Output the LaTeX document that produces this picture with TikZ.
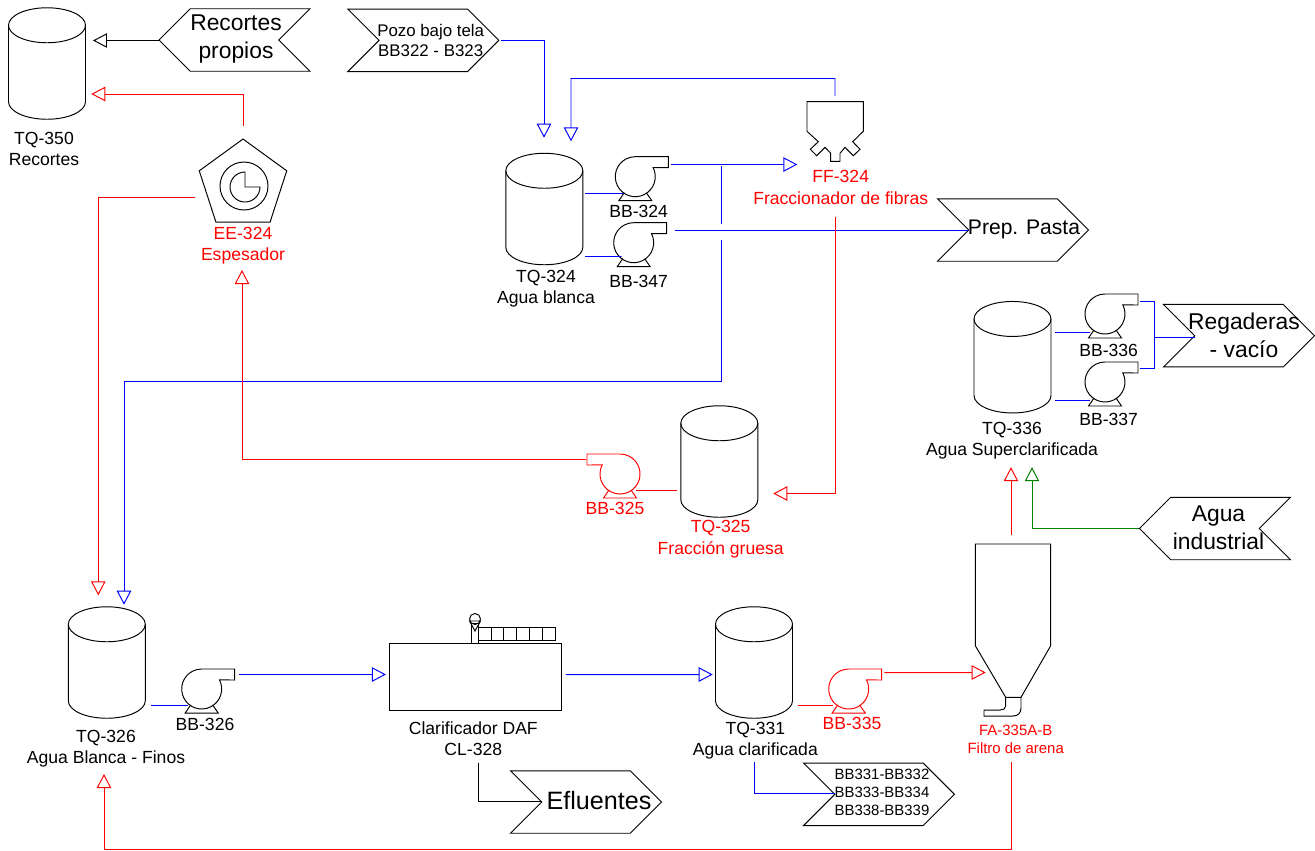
\documentclass[tikz,border=0pt]{standalone}
\usepackage{fontspec}
\setmainfont{Liberation Sans}
\usetikzlibrary{shapes.geometric, shapes.symbols, arrows.meta, calc}
\definecolor{pipegreen}{RGB}{0,128,0}
\tikzset{
  flagright/.style={signal, draw, signal to=east, signal from=west, inner sep=0pt, outer sep=0pt, minimum width=3.02cm, minimum height=1.25cm},
  flagleft/.style={signal, draw, signal to=west, signal from=east, inner sep=0pt, outer sep=0pt, minimum width=3.02cm, minimum height=1.25cm},
  lbl/.style={align=center, inner sep=0pt, font=\fontsize{10}{12.2}\selectfont},
  lblsmall/.style={align=center, inner sep=0pt, font=\fontsize{8.5}{10.5}\selectfont},
  flagtxt/.style={align=center, inner sep=0pt, font=\fontsize{13}{15.9}\selectfont},
  pipe/.style={-{Triangle[open,length=0.28cm,width=0.29cm]}},
  plain/.style={},
  tank/.pic={
    \node[rectangle, inner sep=0pt, outer sep=0pt, minimum width=1.54cm, minimum height=2.23cm] (-body) at (0,0) {};
    \draw (0,-38.25) ellipse (38.5 and 17.5);
    \draw (-38.5,-38.25) -- (-38.5,38.25) arc (180:0:38.5 and 17.5) -- (38.5,-38.25);
  },
  pump/.pic={
    \node[circle, inner sep=0pt, outer sep=0pt, minimum size=0.8cm] (-body) at (0,0) {};
    \draw (17.8,-9.1) arc (-27:270:20) -- (33,-20) -- (33,-9) -- cycle;
    \draw (-11,16) -- (-16.5,24) -- (16.5,24) -- (11,16);
  }
}
\begin{document}
\begin{tikzpicture}[x=0.02cm, y=-0.02cm, line width=0.55pt]
\useasboundingbox (0,0) rectangle (1315,850);

\pic (tq350) at (47,63.5) {tank};
\pic (tq324) at (544.3,209) {tank};
\pic (tq336) at (1012.5,357.2) {tank};
\pic (tq325) at (719.3,461.5) {tank};
\pic (tq326) at (106.8,662.5) {tank};
\pic (tq331) at (754,662.5) {tank};

\pic (bb324) at (635.3,176.7) {pump};
\pic (bb347) at (633.7,242.7) {pump};
\pic (bb336) at (1105,314) {pump};
\pic (bb337) at (1105,382) {pump};
\pic (bb326) at (201.7,689) {pump};
\pic[red] (bb335) at (848.7,689) {pump};
\pic[red, xscale=-1] (bb325) at (620,474) {pump};

\node[flagleft] (recortes) at (234.5,40) {};
\node[flagright] (pozo) at (423.3,40.3) {};
\node[flagright] (prep) at (1013,230) {};
\node[flagright] (regaderas) at (1239,335.7) {};
\node[flagleft] (agua) at (1215,528.5) {};
\node[flagright] (efluentes) at (586,802) {};
\node[flagright] (otras) at (879,794.3) {};

\node[regular polygon, regular polygon sides=5, draw, inner sep=0pt, outer sep=0pt, minimum size=1.84cm] (ee324) at (243,185) {};
\node[circle, draw, inner sep=0pt, minimum size=0.96cm] (ee324rotor) at (244,186) {};
\draw (245,187) -- +(15,0) arc (0:270:15) -- cycle;

\coordinate (ff324) at (835,131);
\draw (807,101.7) -- (863.3,101.7) -- (863.3,131.3) -- (852.7,141.7) -- (860,149.3) -- (853.3,155.7) -- (845,147.3) -- (840,153.3) -- (840,161.3) -- (830.7,161.3) -- (830.7,153.3) -- (825,147.3) -- (816.7,155.7) -- (810.3,149.3) -- (818.3,141.7) -- (807,131.3) -- cycle;

\node[rectangle, draw, inner sep=0pt, outer sep=0pt, minimum width=3.434cm, minimum height=1.334cm] (daf) at (475.15,676.65) {};
\draw (471.7,643.3) rectangle (478.3,623);
\draw (475,619) circle (5.5);
\draw (469.5,621) -- (480.5,621) -- (475,631) -- cycle;
\foreach \i in {0,...,5} {
  \draw (478.3+12.83*\i,627.7) rectangle +(12.83,13);
}

\coordinate (fa335) at (1013,620);
\draw (975.3,544) -- (1050.7,544) -- (1050.7,645.7) -- (1021,697.3) -- (1005.7,697.3) -- (975.3,645.7) -- cycle;
\draw (1005.7,697.3) -- (1005.7,706) .. controls (1005.7,709) and (1003,710) .. (1000,710) -- (984,710) -- (984,716) -- (1013,716) .. controls (1018,716) and (1021,713) .. (1021,708) -- (1021,697.3);

\node[flagtxt] (recortestxt) at (236,39) {Recortes\\propios};
\node[align=center, inner sep=0pt, font=\fontsize{9.6}{11}\selectfont] (pozotxt) at (430.7,40.5) {Pozo bajo tela\\BB322 - B323};
\node[inner sep=0pt, font=\fontsize{12}{14}\selectfont] (preptxt) at (1024,229.5) {Prep. Pasta};
\node[flagtxt] (regaderastxt) at (1244,335.5) {Regaderas\\- vacío};
\node[flagtxt] (aguatxt) at (1218.5,527.5) {Agua\\industrial};
\node[inner sep=0pt, font=\fontsize{14.3}{16}\selectfont] (efluentestxt) at (599,800.5) {Efluentes};
\node[align=center, inner sep=0pt, font=\fontsize{8.5}{10.3}\selectfont] (otrastxt) at (882,792.5) {BB331-BB332\\BB333-BB334\\BB338-BB339};

\node[lbl] (tq350lbl) at (44,149) {TQ-350\\Recortes};
\node[lbl, text=red] (ee324lbl) at (243,245.5) {EE-324\\Espesador};
\node[lbl] (tq324lbl) at (546,288.5) {TQ-324\\Agua blanca};
\node[lbl] (bb324lbl) at (638.7,211.5) {BB-324};
\node[lbl] (bb347lbl) at (638.7,281.5) {BB-347};
\node[lbl, text=red] (ff324lbl) at (840.7,187.6) {FF-324\\Fraccionador de fibras};
\node[lbl] (bb336lbl) at (1108.7,350.7) {BB-336};
\node[lbl] (bb337lbl) at (1108.7,419) {BB-337};
\node[lbl] (tq336lbl) at (1012,440.5) {TQ-336\\Agua Superclarificada};
\node[lbl, text=red] (bb325lbl) at (615,508.5) {BB-325};
\node[lbl, text=red] (tq325lbl) at (720.7,539) {TQ-325\\Fracción gruesa};
\node[lbl] (tq326lbl) at (106,748.5) {TQ-326\\Agua Blanca - Finos};
\node[lbl] (bb326lbl) at (205,724) {BB-326};
\node[lbl] (daflbl) at (473.3,738.5) {Clarificador DAF\\CL-328};
\node[lbl] (tq331lbl) at (755.3,740.5) {TQ-331\\Agua clarificada};
\node[lbl, text=red] (bb335lbl) at (852,723.5) {BB-335};
\node[lblsmall, text=red] (fa335lbl) at (1015.7,739.5) {FA-335A-B\\Filtro de arena};

\coordinate (topbend) at (571,78.5);
\coordinate (teetop) at (721,166);
\coordinate (teegapa) at (721,224);
\coordinate (teegapb) at (721,240);
\coordinate (teebend) at (721,381);
\coordinate (regtee) at (1154,337.5);
\coordinate (returnbend) at (104,849);

\draw[pipe] ($(recortes.center)+(-75.5,0.5)$) -- ($(tq350-body.center)+(46,-23)$);
\draw[pipe, red] ($(ee324.center)+(0,-59)$) |- ($(tq350-body.center)+(44.3,30.5)$);
\draw[pipe, red] ($(ee324.center)+(-48,12)$) -| ($(tq326-body.center)+(-8.5,-67.2)$);
\draw[pipe, blue] ($(pozo.east)+(2,0.2)$) -| ($(tq324-body.center)+(-0.3,-71.3)$);
\draw[pipe, blue] ($(ff324)+(0,-35)$) |- (topbend) -- ($(tq324-body.center)+(26.7,-67.7)$);
\draw[plain, blue] ($(tq324-body.center)+(40.7,-15.5)$) -- ($(bb324-body.center)+(-12.3,16.8)$);
\draw[plain, blue] ($(tq324-body.center)+(40.7,47.5)$) -- ($(bb347-body.center)+(-12,13.8)$);
\draw[pipe, blue] ($(bb324-body.center)+(35.7,-12.2)$) -- ($(ff324)+(-37.7,33.5)$);
\draw[plain, blue] ($(bb347-body.center)+(41.3,-12.2)$) -- ($(prep.center)+(-44,0.5)$);
\draw[plain, blue] (teetop) -- (teegapa);
\draw[pipe, blue] (teegapb) -- (teebend) -| ($(tq326-body.center)+(17.2,-57.8)$);
\draw[pipe, red] ($(ff324)+(0,86)$) |- ($(tq325-body.center)+(54,32)$);
\draw[plain, red] ($(tq325-body.center)+(-42,29)$) -- ($(bb325-body.center)+(15.7,16.5)$);
\draw[pipe, red] ($(bb325-body.center)+(-34.3,-14.5)$) -| ($(ee324.center)+(-1,85)$);
\draw[plain, blue] ($(tq336-body.center)+(42.5,-24.7)$) -- ($(bb336-body.center)+(-15,18.5)$);
\draw[plain, blue] ($(tq336-body.center)+(42.5,43.3)$) -- ($(bb337-body.center)+(-15,18.5)$);
\draw[plain, blue] ($(bb336-body.center)+(35,-13)$) -| (regtee) |- ($(bb337-body.center)+(35,-13.5)$);
\draw[plain, blue] (regtee) -- ($(regaderas.center)+(-44,1.8)$);
\draw[plain, blue] ($(tq326-body.center)+(44.2,43)$) -- ($(bb326-body.center)+(-14,16.5)$);
\draw[pipe, blue] ($(bb326-body.center)+(37.3,-14.5)$) -- ($(daf.center)+(-89.2,-2.15)$);
\draw[pipe, blue] ($(daf.center)+(90.8,-2.15)$) -- ($(tq331-body.center)+(-41.3,12)$);
\draw[plain] ($(daf.center)+(3.1,86)$) |- ($(efluentes.center)+(-44,-0.5)$);
\draw[plain, blue] ($(tq331-body.center)+(0.3,99.8)$) |- ($(otras.center)+(-44,-0.8)$);
\draw[plain, red] ($(tq331-body.center)+(44.3,43)$) -- ($(bb335-body.center)+(-15.4,16.5)$);
\draw[pipe, red] ($(bb335-body.center)+(35.6,-16.5)$) -- ($(fa335)+(-27.3,52.5)$);
\draw[pipe, red] ($(fa335)+(-2,-85)$) -- ($(tq336-body.center)+(-1.5,110)$);
\draw[pipe, pipegreen] ($(agua.center)+(-76,0)$) -| ($(tq336-body.center)+(19.5,110)$);
\draw[pipe, red] ($(fa335)+(-2,142)$) |- (returnbend) -- ($(tq326-body.center)+(-2.8,111.5)$);
\end{tikzpicture}
\end{document}
